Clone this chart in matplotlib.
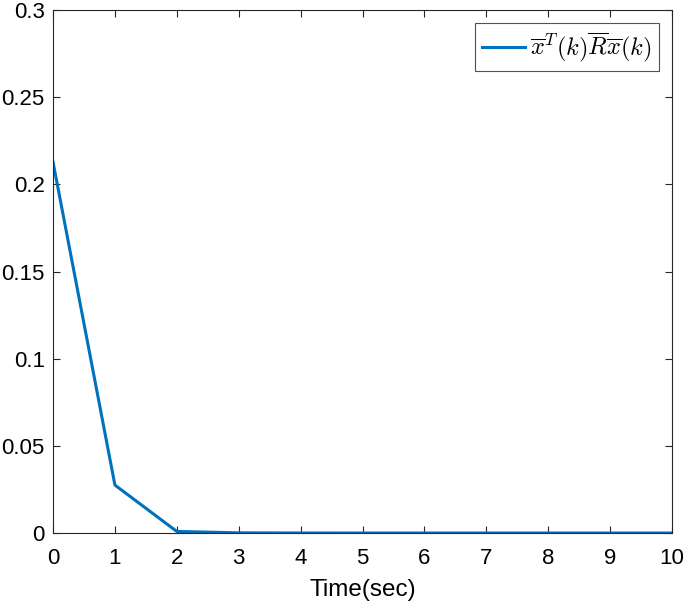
import matplotlib
matplotlib.use("Agg")
import matplotlib.pyplot as plt

time = [0, 1, 2, 3, 4, 5, 6, 7, 8, 9, 10]
values = [0.2128, 0.0275, 0.0009, 0.0001, 0.00002, 0.0, 0.0, 0.0, 0.0, 0.0, 0.0]
xticks = [0, 1, 2, 3, 4, 5, 6, 7, 8, 9, 10]
yticks = [0, 0.05, 0.1, 0.15, 0.2, 0.25, 0.3]
yticklabels = ["0", "0.05", "0.1", "0.15", "0.2", "0.25", "0.3"]

plt.rcParams['font.family'] = ['Liberation Sans', 'DejaVu Sans']
plt.rcParams['mathtext.fontset'] = 'cm'

fig = plt.figure(figsize=(6.85, 6.07), dpi=100)
ax = fig.add_axes([0.0774, 0.1219, 0.9036, 0.8616])
ax.plot(time, values, color=(0, 0.447, 0.741), linewidth=2.2,
        label=r'$\overline{x}^T(k)\overline{R}\overline{x}(k)$')
ax.set_xlim(0, 10)
ax.set_ylim(0, 0.3)
ax.set_xticks(xticks)
ax.set_yticks(yticks)
ax.set_yticklabels(yticklabels)
edge = (0.15, 0.15, 0.15)
for s in ax.spines.values():
    s.set_color(edge)
    s.set_linewidth(0.8)
ax.tick_params(direction='in', length=5, width=0.8, colors=edge, labelsize=16,
               top=True, right=True, labelcolor='black')
ax.tick_params(axis='x', pad=11)
ax.tick_params(axis='y', pad=6)
ax.set_xlabel('Time(sec)', fontsize=17.5, labelpad=7)
leg = ax.legend(loc='upper right', fontsize=17.5, frameon=True, fancybox=False,
                edgecolor=edge, borderaxespad=0.55, handlelength=1.75,
                borderpad=0.3, handletextpad=0.2)
leg.get_frame().set_linewidth(0.8)
fig.savefig('out.png', dpi=100)
